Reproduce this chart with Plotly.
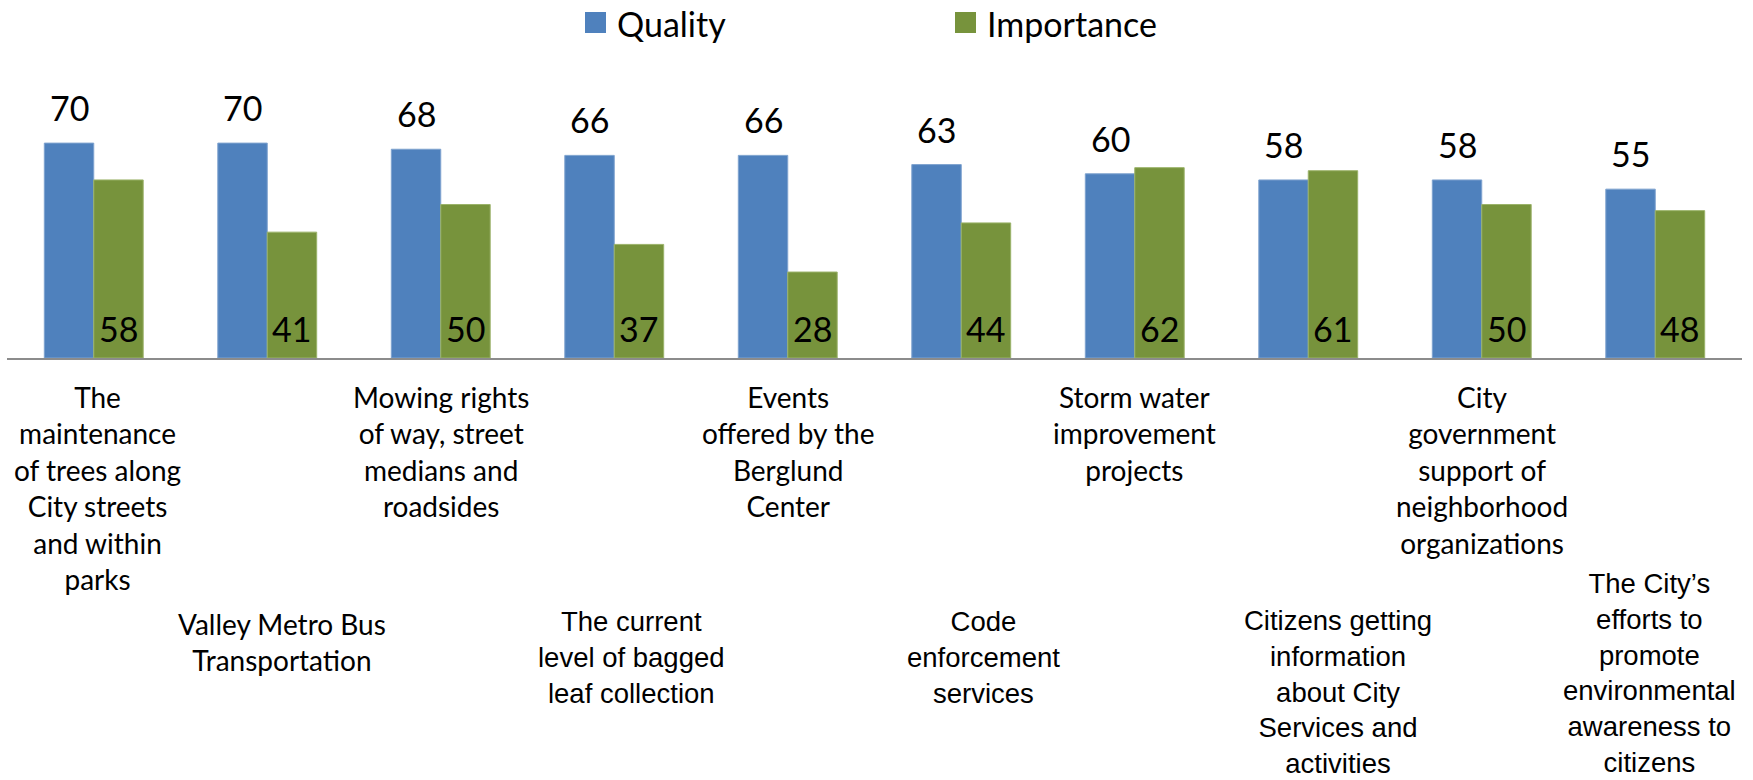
import plotly.graph_objects as go

# Service names (line breaks as they appear under the axis)
services = [
    "The<br>maintenance<br>of trees along<br>City streets<br>and within<br>parks",
    "Valley Metro Bus<br>Transportation",
    "Mowing rights<br>of way, street<br>medians and<br>roadsides",
    "The current<br>level of bagged<br>leaf collection",
    "Events<br>offered by the<br>Berglund<br>Center",
    "Code<br>enforcement<br>services",
    "Storm water<br>improvement<br>projects",
    "Citizens getting<br>information<br>about City<br>Services and<br>activities",
    "City<br>government<br>support of<br>neighborhood<br>organizations",
    "The City’s<br>efforts to<br>promote<br>environmental<br>awareness to<br>citizens",
]
quality = [70, 70, 68, 66, 66, 63, 60, 58, 58, 55]
importance = [58, 41, 50, 37, 28, 44, 62, 61, 50, 48]
series_names = ["Quality", "Importance"]

# ---- styling / layout constants ----
W, H = 1753, 780
M_L, M_R, M_T, M_B = 7, 11, 51, 422
BLUE, GREEN = "#4F81BD", "#77933C"
BARGAP = 0.43
CAL = "Lato, Carlito, Calibri, sans-serif"
ARI = "Liberation Sans, Arial, sans-serif"
label_fonts = [CAL, CAL, CAL, ARI, CAL, ARI, CAL, ARI, CAL, ARI]
label_sizes = [28, 28, 28, 27.5, 28, 27.5, 28, 27.5, 28, 27.5]
label_xshift = [4, 15, 0, 17, 0, 22, 0, 30, 0, -6]
label_top = [378, 605, 378, 604, 378, 604, 378, 603, 378, 566]

plot_w = W - M_L - M_R
plot_h = H - M_T - M_B
axis_y = H - M_B
cat_w = plot_w / len(services)
bar_w = cat_w * (1 - BARGAP) / 2


def px_x(p):
    return (p - M_L) / plot_w


def px_y(p):
    return (axis_y - p) / plot_h


fig = go.Figure()
fig.add_trace(go.Bar(x=services, y=quality, name=series_names[0],
                     marker=dict(color=BLUE, line=dict(color="#7fa3cf", width=1))))
fig.add_trace(go.Bar(x=services, y=importance, name=series_names[1],
                     marker=dict(color=GREEN, line=dict(color="#9bb36a", width=1))))

annotations = []
# value labels: Quality above its bar, Importance at the foot of its bar
for s, q, imp in zip(services, quality, importance):
    annotations.append(dict(x=s, y=q, xref="x", yref="y", text=str(q),
                            showarrow=False, xshift=-bar_w / 2, yshift=13,
                            yanchor="bottom",
                            font=dict(family=CAL, size=34, color="black")))
    annotations.append(dict(x=s, y=0, xref="x", yref="y", text=str(imp),
                            showarrow=False, xshift=bar_w / 2, yshift=7,
                            yanchor="bottom",
                            font=dict(family=CAL, size=34, color="black")))

# staggered category labels
for s, f, fs, dx, top in zip(services, label_fonts, label_sizes, label_xshift, label_top):
    annotations.append(dict(x=s, y=0, xref="x", yref="paper", text=s,
                            showarrow=False, xshift=dx,
                            yshift=-(top - axis_y), yanchor="top",
                            align="center",
                            font=dict(family=f, size=fs, color="black")))

# legend: swatches and names
legend_items = [(series_names[0], BLUE, 585, 615), (series_names[1], GREEN, 955, 985)]
shapes = []
for name, col, sx, tx in legend_items:
    shapes.append(dict(type="rect", xref="paper", yref="paper",
                       x0=px_x(sx), x1=px_x(sx + 21), y0=px_y(33), y1=px_y(12),
                       fillcolor=col, line=dict(width=0)))
    annotations.append(dict(x=px_x(tx), y=px_y(24), xref="paper", yref="paper",
                            text=name, showarrow=False, xanchor="left",
                            yanchor="middle",
                            font=dict(family=CAL, size=34, color="black")))

fig.update_layout(
    width=W, height=H,
    margin=dict(l=M_L, r=M_R, t=M_T, b=M_B, pad=0),
    paper_bgcolor="white", plot_bgcolor="white",
    barmode="group", bargap=BARGAP, bargroupgap=0,
    showlegend=False,
    annotations=annotations, shapes=shapes,
    xaxis=dict(showticklabels=False, ticks="", showgrid=False, zeroline=False,
               showline=True, linecolor="#8c8c8c", linewidth=2),
    yaxis=dict(range=[0, 100], visible=False, showgrid=False, zeroline=False),
)

fig.write_html("out.html")
